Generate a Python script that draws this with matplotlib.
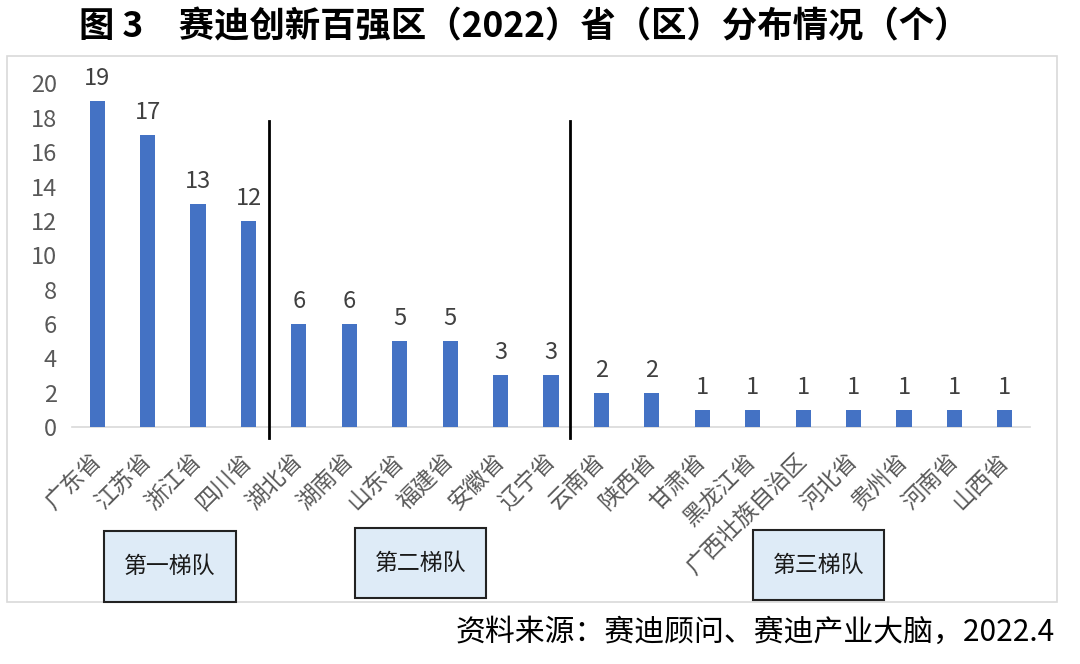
import matplotlib
matplotlib.use("Agg")
import matplotlib.pyplot as plt
from matplotlib.patches import Rectangle
from matplotlib.lines import Line2D

plt.rcParams['font.family'] = ['Noto Sans CJK SC', 'DejaVu Sans']

provinces = ["广东省", "江苏省", "浙江省", "四川省", "湖北省", "湖南省", "山东省", "福建省",
             "安徽省", "辽宁省", "云南省", "陕西省", "甘肃省", "黑龙江省", "广西壮族自治区",
             "河北省", "贵州省", "河南省", "山西省"]
counts = [19, 17, 13, 12, 6, 6, 5, 5, 3, 3, 2, 2, 1, 1, 1, 1, 1, 1, 1]
yticks = [0, 2, 4, 6, 8, 10, 12, 14, 16, 18, 20]
tiers = ["第一梯队", "第二梯队", "第三梯队"]
title = "图 3　赛迪创新百强区（2022）省（区）分布情况（个）"
source = "资料来源：赛迪顾问、赛迪产业大脑，2022.4"

W, H = 1080, 664
fig = plt.figure(figsize=(W / 100, H / 100), dpi=100)

def fx(px):
    return px / W

def fy(py):
    return (H - py) / H

# outer light frame
fig.add_artist(Rectangle((fx(7), fy(602)), fx(1057) - fx(7), fy(56) - fy(602),
                         transform=fig.transFigure, facecolor='none',
                         edgecolor='#D9D9D9', linewidth=1.2))

ax = fig.add_axes([fx(72), fy(427), fx(1030) - fx(72), fy(83.5) - fy(427)])
x = list(range(len(provinces)))
ax.bar(x, counts, width=0.3, color='#4472C4', zorder=3)
ax.set_xlim(-0.5, len(provinces) - 0.5)
ax.set_ylim(0, 20)
ax.set_yticks(yticks)
ax.tick_params(axis='y', length=0, pad=11, labelsize=17, labelcolor='#595959')
ax.set_xticks(x)
ax.set_xticklabels(provinces, rotation=45, ha='right', va='center',
                   rotation_mode='anchor', fontsize=16.5, color='#595959')
ax.tick_params(axis='x', length=0, pad=22)
for s in ['top', 'right', 'left']:
    ax.spines[s].set_visible(False)
ax.spines['bottom'].set_color('#D9D9D9')
ax.spines['bottom'].set_linewidth(1.2)

for xi, v in zip(x, counts):
    ax.annotate(str(v), (xi, v), xytext=(0, 8), textcoords='offset points',
                ha='center', va='bottom', fontsize=17, color='#404040',
                annotation_clip=False)

# tier separator lines
for px in (269, 570):
    fig.add_artist(Line2D([fx(px), fx(px)], [fy(121), fy(438)],
                          transform=fig.transFigure, color='black', linewidth=2))

# tier boxes
boxes = [(104, 531, 236, 602), (355, 528, 486, 598), (753, 530, 884, 600)]
for (x0, y0, x1, y1), label in zip(boxes, tiers):
    fig.add_artist(Rectangle((fx(x0), fy(y1)), fx(x1) - fx(x0), fy(y0) - fy(y1),
                             transform=fig.transFigure, facecolor='#DEEBF7',
                             edgecolor='#222222', linewidth=1.5))
    fig.text(fx((x0 + x1) / 2), fy((y0 + y1) / 2), label, ha='center', va='center',
             fontsize=16.5, color='#1a1a1a')

fig.text(fx(524), fy(27), title, ha='center', va='center', fontsize=25.5,
         fontweight='bold', color='black')
fig.text(fx(1055), fy(632), source, ha='right', va='center', fontsize=21.5,
         color='black')

fig.savefig('out.png', dpi=100)
